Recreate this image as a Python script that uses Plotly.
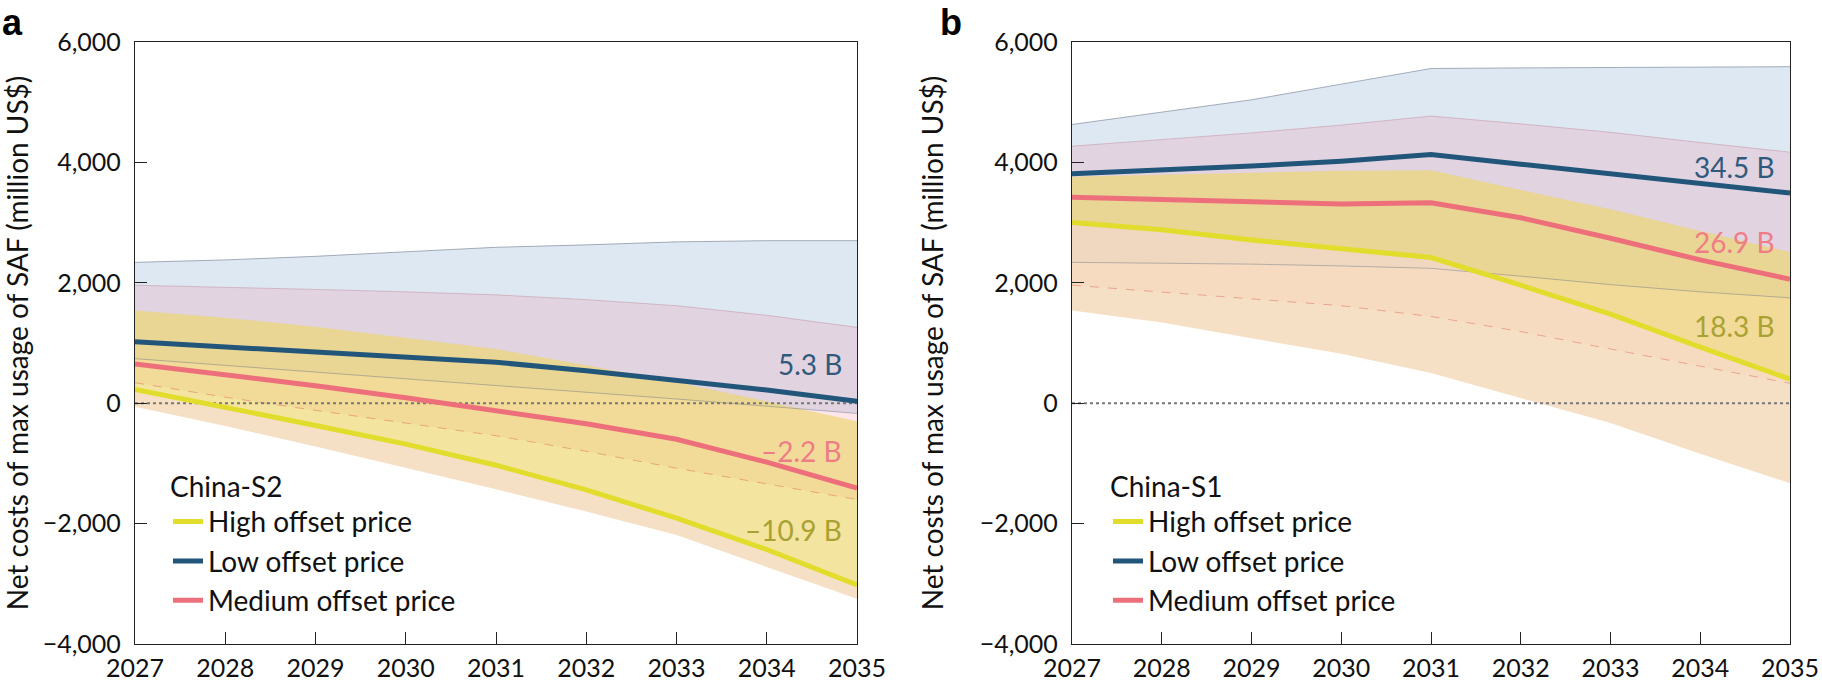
import plotly.graph_objects as go
from plotly.subplots import make_subplots

years = [2027, 2028, 2029, 2030, 2031, 2032, 2033, 2034, 2035]

# panel a: China-S2 (million US$)
a_low = [1020, 930, 840, 755, 680, 540, 385, 220, 30]
a_low_upper = [2340, 2380, 2440, 2510, 2590, 2630, 2680, 2700, 2700]
a_low_lower = [740, 630, 520, 410, 300, 190, 70, -50, -170]
a_med = [650, 480, 290, 90, -120, -340, -600, -980, -1410]
a_med_upper = [1960, 1930, 1890, 1850, 1800, 1720, 1620, 1460, 1260]
a_med_lower = [340, 100, -120, -330, -540, -800, -1080, -1340, -1600]
a_high = [230, -60, -370, -680, -1030, -1440, -1910, -2430, -3020]
a_high_upper = [1540, 1420, 1270, 1090, 900, 630, 350, 30, -300]
a_high_lower = [-60, -380, -720, -1070, -1430, -1800, -2190, -2720, -3250]

# panel b: China-S1 (million US$)
b_low = [3810, 3870, 3940, 4020, 4130, 3970, 3810, 3660, 3490]
b_low_upper = [4630, 4830, 5040, 5300, 5560, 5570, 5580, 5580, 5590]
b_low_lower = [2340, 2330, 2310, 2280, 2240, 2110, 1970, 1850, 1750]
b_med = [3420, 3390, 3350, 3310, 3330, 3080, 2740, 2380, 2060]
b_med_upper = [4270, 4380, 4490, 4620, 4770, 4640, 4500, 4330, 4170]
b_med_lower = [1960, 1850, 1740, 1620, 1440, 1190, 900, 610, 330]
b_high = [3000, 2880, 2710, 2560, 2420, 1960, 1480, 930, 400]
b_high_upper = [3760, 3800, 3830, 3860, 3870, 3540, 3220, 2860, 2510]
b_high_lower = [1540, 1340, 1080, 820, 500, 90, -330, -840, -1330]

# cumulative totals written at the right end of each line
a_labels = ["5.3 B", "–2.2 B", "–10.9 B"]
a_label_y = [650, -800, -2100]
b_labels = ["34.5 B", "26.9 B", "18.3 B"]
b_label_y = [3930, 2670, 1280]

FONT = "Lato"
LOW_C = "#22557a"
MED_C = "#ee6f7c"
HIGH_C = "#e2dc2c"
TEXT_C = ["#2f5a7d", "#ef7d87", "#a9a232"]

fig = make_subplots(rows=1, cols=2, horizontal_spacing=0.1)


def band(lower, upper, fillcolor, col):
    fig.add_trace(go.Scatter(x=years, y=lower, mode="lines", line=dict(width=0),
                             showlegend=False, hoverinfo="skip"), row=1, col=col)
    fig.add_trace(go.Scatter(x=years, y=upper, mode="lines", line=dict(width=0),
                             fill="tonexty", fillcolor=fillcolor,
                             showlegend=False, hoverinfo="skip"), row=1, col=col)


def edge(vals, color, col, dash="solid"):
    fig.add_trace(go.Scatter(x=years, y=vals, mode="lines",
                             line=dict(width=0.8, color=color, dash=dash),
                             showlegend=False, hoverinfo="skip"), row=1, col=col)


panels = [
    (1, "legend", a_low, a_low_upper, a_low_lower, a_med, a_med_upper, a_med_lower,
     a_high, a_high_upper, a_high_lower, a_labels, a_label_y),
    (2, "legend2", b_low, b_low_upper, b_low_lower, b_med, b_med_upper, b_med_lower,
     b_high, b_high_upper, b_high_lower, b_labels, b_label_y),
]

for (col, leg, low, low_up, low_lo, med, med_up, med_lo,
     high, high_up, high_lo, labels, label_y) in panels:
    # shaded ranges; the high-price range is split at its line (peach below, yellow above)
    band(low_lo, low_up, "rgba(145,178,212,0.30)", col)
    band(med_lo, med_up, "rgba(240,130,155,0.20)", col)
    band(high_lo, high, "rgba(244,216,183,0.80)", col)
    band(high, high_up, "rgba(236,214,108,0.65)", col)

    edge(low_up, "rgba(90,105,125,0.65)", col)
    edge(low_lo, "rgba(90,105,125,0.5)", col)
    edge(med_up, "rgba(190,130,150,0.55)", col)
    edge(med_lo, "rgba(225,130,110,0.8)", col, dash="dash")

    fig.add_trace(go.Scatter(x=[years[0], years[-1]], y=[0, 0], mode="lines",
                             line=dict(width=2, color="#777777", dash="dot"),
                             showlegend=False, hoverinfo="skip"), row=1, col=col)

    for name, vals, color in [("High offset price", high, HIGH_C),
                              ("Low offset price", low, LOW_C),
                              ("Medium offset price", med, MED_C)]:
        fig.add_trace(go.Scatter(x=years, y=vals, mode="lines", name=name,
                                 line=dict(width=5, color=color),
                                 legend=leg), row=1, col=col)

    xref = "x" if col == 1 else "x2"
    yref = "y" if col == 1 else "y2"
    for txt, yv, c in zip(labels, label_y, TEXT_C):
        fig.add_annotation(x=years[-1], y=yv, xref=xref, yref=yref, text=txt,
                           showarrow=False, xanchor="right", yanchor="middle",
                           xshift=-13, font=dict(family=FONT, size=28, color=c))

axis_common = dict(showline=True, linecolor="#222222", linewidth=1.3, mirror=True,
                   ticks="inside", ticklen=12, tickwidth=1.3, tickcolor="#222222",
                   showgrid=False, zeroline=False, automargin=False,
                   tickfont=dict(family=FONT, size=25, color="#111111"))

fig.update_xaxes(range=[2027, 2035], dtick=1, tickformat="d", ticklabelstandoff=2,
                 ticklabeloverflow="allow", **axis_common)
fig.update_yaxes(range=[-4000, 6000], dtick=2000, tickformat=",", ticklabelstandoff=8,
                 title=dict(text="Net costs of max usage of SAF (million US$)",
                            font=dict(family=FONT, size=28, color="#111111"),
                            standoff=27),
                 **axis_common)

legend_common = dict(xanchor="left", yanchor="top", y=0.305, bgcolor="rgba(0,0,0,0)",
                     itemwidth=30, tracegroupgap=0, traceorder="normal",
                     font=dict(family=FONT, size=28, color="#111111"))

fig.update_layout(
    width=1822, height=692,
    margin=dict(l=0, r=0, t=42, b=48, autoexpand=False),
    plot_bgcolor="white", paper_bgcolor="white",
    xaxis=dict(domain=[135 / 1822, 857 / 1822]),
    xaxis2=dict(domain=[1072 / 1822, 1790 / 1822]),
    font=dict(family=FONT, color="#111111"),
    legend=dict(x=168 / 1822, title=dict(text="China-S2", font=dict(family=FONT, size=28)),
                **legend_common),
    legend2=dict(x=1108 / 1822, title=dict(text="China-S1", font=dict(family=FONT, size=28)),
                 **legend_common),
)

for letter, px in [("a", 0), ("b", 938)]:
    fig.add_annotation(x=px / 1822, y=644 / 602, xref="paper", yref="paper",
                       text="<b>%s</b>" % letter, showarrow=False,
                       xanchor="left", yanchor="top",
                       font=dict(family="Liberation Sans", size=36, color="#000000"))

# page body has a default 8px margin; drop it so the figure sits at the corner
fig.write_html("out.html", config={"displayModeBar": False},
               post_script="document.body.style.margin='0px';")
